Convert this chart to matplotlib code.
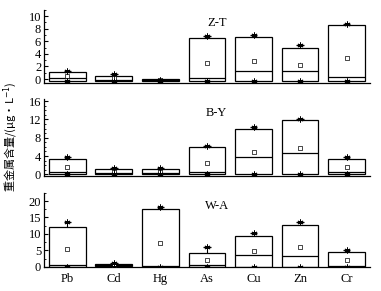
import matplotlib.pyplot as plt
from matplotlib.ticker import MultipleLocator, AutoMinorLocator

elements = ['Pb', 'Cd', 'Hg', 'As', 'Cu', 'Zn', 'Cr']
sites = ['Z-T', 'B-Y', 'W-A']

# box bottom / box top / median / mean / max / min  (μg/L)
box_low = {
    'Z-T': [-0.3, -0.3, -0.3, -0.3, -0.3, -0.3, -0.3],
    'B-Y': [0.0, 0.15, 0.15, 0.0, 0.0, 0.0, 0.0],
    'W-A': [0.0, 0.1, 0.0, 0.0, 0.0, 0.0, 0.0],
}
box_high = {
    'Z-T': [1.06, 0.5, 0.0, 6.55, 6.7, 5.0, 8.6],
    'B-Y': [3.27, 1.1, 1.1, 5.9, 9.9, 11.85, 3.27],
    'W-A': [12.2, 0.8, 17.5, 4.2, 9.5, 12.6, 4.6],
}
median = {
    'Z-T': [0.1, -0.1, -0.15, 0.1, 1.2, 1.2, 0.27],
    'B-Y': [0.58, 0.3, 0.3, 0.44, 3.7, 4.7, 0.58],
    'W-A': [0.5, 0.4, 0.2, 0.4, 3.65, 3.15, 0.3],
}
mean = {
    'Z-T': [0.5, 0.2, -0.15, 2.6, 2.85, 2.2, 3.4],
    'B-Y': [1.67, 0.6, 0.6, 2.5, 4.8, 5.8, 1.67],
    'W-A': [5.4, 0.5, 7.3, 2.0, 4.9, 6.0, 2.0],
}
vmax = {
    'Z-T': [1.3, 0.8, -0.1, 6.8, 6.95, 5.4, 8.8],
    'B-Y': [3.7, 1.45, 1.45, 6.2, 10.25, 12.1, 3.7],
    'W-A': [13.7, 1.2, 18.3, 6.0, 10.15, 13.5, 5.1],
}
vmin = {
    'Z-T': [-0.3, -0.3, -0.3, -0.3, -0.3, -0.3, -0.3],
    'B-Y': [0.0, 0.0, 0.0, 0.0, 0.0, 0.0, 0.0],
    'W-A': [0.0, 0.0, 0.0, 0.0, 0.0, 0.0, 0.0],
}

ylims = {'Z-T': (-0.6, 11), 'B-Y': (-0.3, 16.5), 'W-A': (-0.2, 22.5)}
ymajor = {'Z-T': 2, 'B-Y': 4, 'W-A': 5}
yminor = {'Z-T': 2, 'B-Y': 4, 'W-A': 2}
# axes rects [left, bottom, width, height] in figure fraction
rects = {
    'Z-T': [0.1155, 0.7155, 0.8555, 0.251],
    'B-Y': [0.1155, 0.396, 0.8555, 0.2646],
    'W-A': [0.1155, 0.081, 0.8555, 0.2565],
}

plt.rcParams['font.family'] = ['Liberation Serif', 'Noto Sans CJK SC']
fig = plt.figure(figsize=(3.81, 2.91), dpi=100)

x = list(range(1, len(elements) + 1))
for site in sites:
    ax = fig.add_axes(rects[site])
    lo = box_low[site]
    hi = box_high[site]
    heights = [h - l for h, l in zip(hi, lo)]
    ax.bar(x, heights, bottom=lo, width=0.79, facecolor='white',
           edgecolor='black', linewidth=0.9, zorder=2)
    ax.hlines(median[site], [i - 0.395 for i in x], [i + 0.395 for i in x],
              color='black', linewidth=0.9, zorder=3)
    ax.vlines(x, hi, vmax[site], color='black', linewidth=0.8, zorder=3)
    ax.hlines(vmax[site], [i - 0.08 for i in x], [i + 0.08 for i in x],
              color='black', linewidth=0.9, zorder=3)
    ax.scatter(x, mean[site], marker='s', s=8, facecolor='white',
               edgecolor='black', linewidth=0.5, zorder=4)
    ax.scatter(x, vmax[site], marker=(6, 2, 0), s=14, color='black',
               linewidth=0.7, zorder=4)
    ax.scatter(x, vmin[site], marker=(6, 2, 0), s=14, color='black',
               linewidth=0.7, zorder=4)

    ax.set_xlim(0.5, 7.5)
    ax.set_ylim(*ylims[site])
    ax.yaxis.set_major_locator(MultipleLocator(ymajor[site]))
    ax.yaxis.set_minor_locator(AutoMinorLocator(yminor[site]))
    ax.tick_params(axis='y', which='major', direction='in', length=3,
                   width=0.8, labelsize=9, pad=2)
    ax.tick_params(axis='y', which='minor', direction='in', length=1.5,
                   width=0.6)
    ax.spines['top'].set_visible(False)
    ax.spines['right'].set_visible(False)
    ax.spines['left'].set_linewidth(0.9)
    ax.spines['bottom'].set_linewidth(0.9)
    ax.set_xticks(x)
    if site == 'W-A':
        ax.set_xticklabels(elements)
        ax.tick_params(axis='x', length=0, labelsize=9, pad=4)
    else:
        ax.set_xticklabels([])
        ax.tick_params(axis='x', length=0)
    ax.text(0.53, 0.82, site, transform=ax.transAxes, ha='center',
            va='center', fontsize=9)

fig.text(0.028, 0.53, '重金属含量/(μg·L$^{-1}$)', rotation=90,
         ha='center', va='center', fontsize=8,
         family=['Noto Sans CJK SC', 'DejaVu Sans'])

fig.savefig('out.png', dpi=100)
